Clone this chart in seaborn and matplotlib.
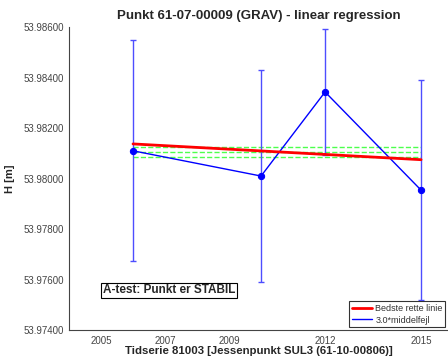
import numpy as np
import pandas as pd
import matplotlib
matplotlib.use("Agg")
import matplotlib.pyplot as plt
import seaborn as sns

years = [2006, 2010, 2012, 2015]
heights = [53.98110, 53.98010, 53.98343, 53.97954]
errors = [0.00437, 0.00420, 0.00250, 0.00435]
green_levels = [53.98124, 53.98104, 53.98084]
xticks = [2005, 2007, 2009, 2012, 2015]
yticks = [53.974, 53.976, 53.978, 53.980, 53.982, 53.984, 53.986]

sns.set_style("white")
plt.rcParams['font.family'] = ['Liberation Sans', 'DejaVu Sans']

fig = plt.figure(figsize=(4.48, 3.58), dpi=100)
ax = fig.add_axes([0.154, 0.078, 0.846, 0.8464])

df = pd.DataFrame({"year": years, "H": heights})

# error bars
ax.errorbar(years, heights, yerr=errors, fmt='none', ecolor=(0.3, 0.3, 1.0),
            elinewidth=1.0, capsize=2.5, capthick=1.0, zorder=2)
# connecting line with markers
sns.lineplot(data=df, x="year", y="H", color='blue', marker='o', markersize=4.5,
             markeredgecolor='blue', linewidth=1.0, ax=ax, zorder=3, legend=False)

# green dashed lines
for g in green_levels:
    ax.plot([years[0], years[-1]], [g, g], color=(0.3, 1.0, 0.3), linestyle='--',
            linewidth=1.0, zorder=1)

# regression line
slope, icpt = np.polyfit(years, heights, 1)
xr = np.array([years[0], years[-1]])
ax.plot(xr, slope * xr + icpt, color='red', linewidth=2.0, zorder=4)

ax.set_xlim(2004, 2015.84)
ax.set_ylim(53.974, 53.986)
ax.set_xticks(xticks)
ax.set_yticks(yticks)
ax.set_yticklabels([f"{v:.5f}" for v in yticks])
ax.tick_params(axis='both', direction='in', length=3, labelsize=7,
               labelcolor='#444444', color='#444444', width=0.8)
ax.tick_params(axis='x', pad=4)
for s in ['top', 'right']:
    ax.spines[s].set_visible(False)
for s in ['left', 'bottom']:
    ax.spines[s].set_color('#444444')
    ax.spines[s].set_linewidth(0.8)

ax.set_title("Punkt 61-07-00009 (GRAV) - linear regression", fontsize=9.5,
             fontweight='bold', pad=6)
ax.set_xlabel("Tidserie 81003 [Jessenpunkt SUL3 (61-10-00806)]", fontsize=8.2,
              fontweight='bold', labelpad=0)
ax.set_ylabel("H [m]", fontsize=8, fontweight='bold', labelpad=6)

ax.text(2005.07, 53.97557, "A-test: Punkt er STABIL", fontsize=8.5, fontweight='bold',
        va='center', ha='left',
        bbox=dict(boxstyle='square,pad=0.15', facecolor='white', edgecolor='black',
                  linewidth=0.8))

from matplotlib.lines import Line2D
handles = [Line2D([0], [0], color='red', linewidth=2),
           Line2D([0], [0], color='blue', linewidth=1)]
leg = ax.legend(handles, ["Bedste rette linie", "3.0*middelfejl"], loc='lower right',
                fontsize=6.5, frameon=True, fancybox=False, borderaxespad=0.3,
                handlelength=2.2, handletextpad=0.4, borderpad=0.3, labelspacing=0.3)
leg.get_frame().set_edgecolor('black')
leg.get_frame().set_linewidth(0.8)
for t in leg.get_texts():
    t.set_color('#333333')

fig.savefig("out.png", dpi=100)
